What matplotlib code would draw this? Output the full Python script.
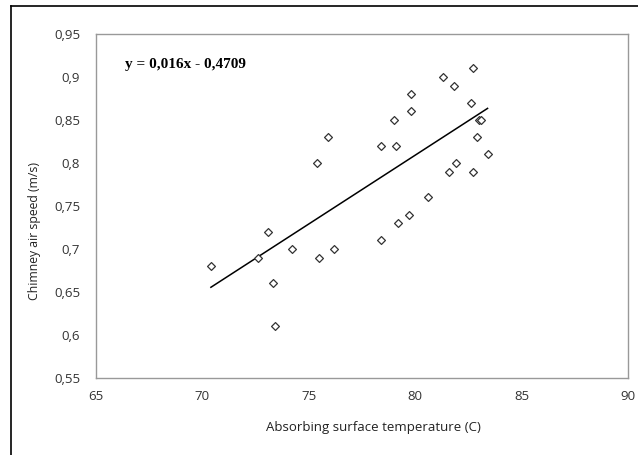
import numpy as np
import matplotlib.pyplot as plt
from matplotlib.lines import Line2D

# absorbing surface temperature (C) and chimney air speed (m/s)
temp = [70.4, 72.6, 73.1, 74.2, 73.3, 73.4, 75.5, 76.2, 78.4, 79.2,
        82.7, 81.3, 81.8, 79.8, 82.6, 79.8, 79.0, 83.0, 83.1, 75.9,
        82.9, 78.4, 79.1, 83.4, 75.4, 81.9, 81.6, 82.7, 80.6, 79.7]
speed = [0.68, 0.69, 0.72, 0.70, 0.66, 0.61, 0.69, 0.70, 0.71, 0.73,
         0.91, 0.90, 0.89, 0.88, 0.87, 0.86, 0.85, 0.85, 0.85, 0.83,
         0.83, 0.82, 0.82, 0.81, 0.80, 0.80, 0.79, 0.79, 0.76, 0.74]
slope, intercept = 0.016, -0.4709

x_ticks = [65, 70, 75, 80, 85, 90]
y_ticks = [0.55, 0.6, 0.65, 0.7, 0.75, 0.8, 0.85, 0.9, 0.95]

fig = plt.figure(figsize=(6.38, 4.55), dpi=100)
ax = fig.add_axes([96 / 638, 1 - 378 / 455, (628 - 96) / 638, (378 - 34) / 455])

ax.scatter(temp, speed, marker="D", s=16, facecolors="white",
           edgecolors="#333333", linewidths=0.9, zorder=3)
xl = np.array([min(temp), max(temp)])
ax.plot(xl, slope * xl + intercept, color="black", lw=1.1, zorder=2)

ax.set_xlim(65, 90)
ax.set_ylim(0.55, 0.95)
ax.set_xticks(x_ticks)
ax.set_yticks(y_ticks)
ax.set_xticklabels([str(t) for t in x_ticks])
ax.set_yticklabels([f"{t:g}".replace(".", ",") for t in y_ticks])
ax.tick_params(length=0, labelsize=9.5)
ax.tick_params(axis="y", pad=11.5)
ax.tick_params(axis="x", pad=9)
for lab in ax.get_xticklabels() + ax.get_yticklabels():
    lab.set_fontfamily("Open Sans")
    lab.set_color("#333333")
for sp in ax.spines.values():
    sp.set_color("#999999")
    sp.set_linewidth(1)

ax.set_xlabel("Absorbing surface temperature (C)", fontsize=9.5,
              fontfamily="Open Sans", color="#222222")
ax.set_ylabel("Chimney air speed (m/s)", fontsize=8.8,
              fontfamily="Open Sans", color="#222222")
ax.xaxis.set_label_coords(0.522, -0.125)
ax.yaxis.set_label_coords(-0.103, 0.427)

ax.text(0.054, 0.91, "y = 0,016x - 0,4709", transform=ax.transAxes,
        fontsize=11, fontweight="bold", fontfamily="Liberation Serif",
        va="center", ha="left")

# outer frame (left and top edges visible)
fig.add_artist(Line2D([10.5 / 638, 10.5 / 638], [0, 1 - 6 / 455],
                      transform=fig.transFigure, color="black", lw=1.2))
fig.add_artist(Line2D([10.5 / 638, 1], [1 - 6 / 455, 1 - 6 / 455],
                      transform=fig.transFigure, color="black", lw=1.2))

fig.savefig("out.png", dpi=100)
